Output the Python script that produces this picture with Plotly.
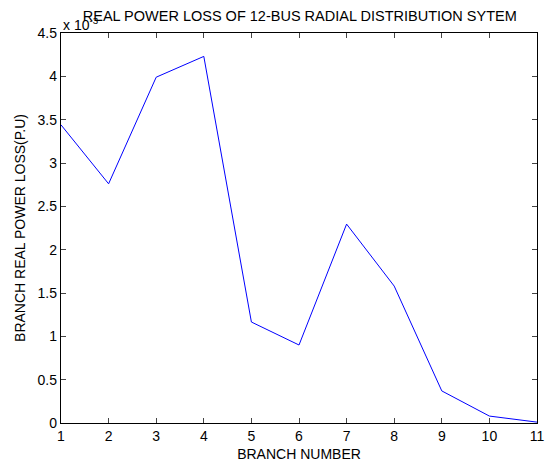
import plotly.graph_objects as go

branch = [1, 2, 3, 4, 5, 6, 7, 8, 9, 10, 11]
loss_e3 = [3.44, 2.76, 3.99, 4.23, 1.165, 0.90, 2.295, 1.58, 0.37, 0.08, 0.01]
yticks = [0, 0.5, 1, 1.5, 2, 2.5, 3, 3.5, 4, 4.5]
ytick_text = ["0", "0.5", "1", "1.5", "2", "2.5", "3", "3.5", "4", "4.5"]
xticks = branch

font = "Liberation Sans, Arial, sans-serif"

fig = go.Figure()
fig.add_trace(go.Scatter(x=branch, y=loss_e3, mode="lines",
                         line=dict(color="#0000ff", width=1)))

fig.update_layout(
    width=550, height=466,
    margin=dict(l=61, r=13, t=33, b=43),
    paper_bgcolor="white", plot_bgcolor="white",
    showlegend=False,
    font=dict(family=font, size=14, color="black"),
    title=dict(text="REAL POWER LOSS OF 12-BUS RADIAL DISTRIBUTION SYTEM",
               x=0.545, xanchor="center", y=0.966, yanchor="middle",
               font=dict(family=font, size=14.5, color="black")),
    xaxis=dict(range=[1, 11], tickvals=xticks, ticks="inside", ticklen=5,
               showline=True, linecolor="black", linewidth=1.3, mirror="ticks",
               showgrid=False, zeroline=False, automargin=False,
               tickfont=dict(size=14),
               title=dict(text="BRANCH NUMBER", standoff=6, font=dict(size=14))),
    yaxis=dict(range=[0, 4.5], tickvals=yticks, ticktext=ytick_text,
               ticks="inside", ticklen=5,
               showline=True, linecolor="black", linewidth=1.3, mirror="ticks",
               showgrid=False, zeroline=False, automargin=False,
               tickfont=dict(size=14),
               title=dict(text="BRANCH REAL POWER LOSS(P.U)", standoff=8,
                          font=dict(size=14))),
)

fig.add_annotation(text="x 10<sup>-3</sup>", xref="paper", yref="paper",
                   x=0, y=1, xanchor="left", yanchor="bottom", yshift=-2,
                   showarrow=False, font=dict(family=font, size=14, color="black"))

fig.write_html("out.html")
